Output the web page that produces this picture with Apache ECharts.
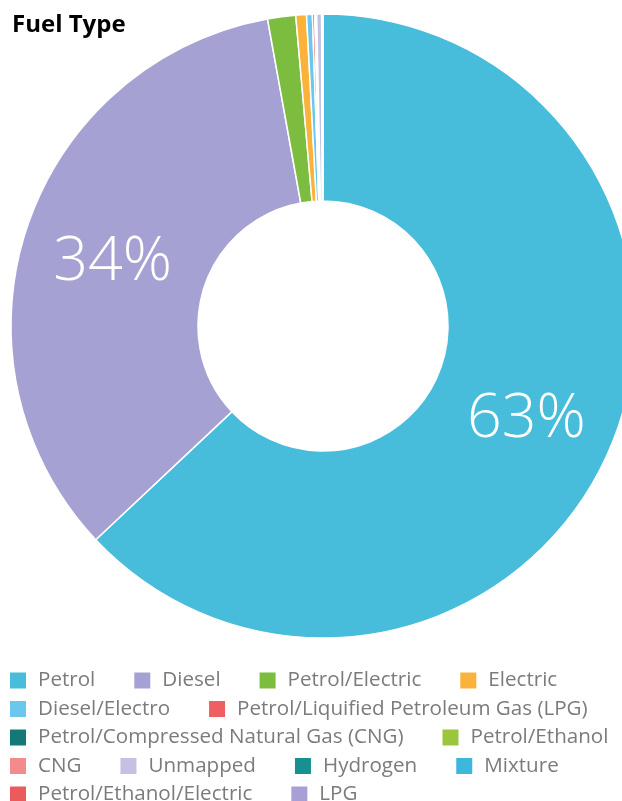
<!DOCTYPE html>
<html>
<head>
<meta charset="utf-8">
<script src="https://cdn.jsdelivr.net/npm/echarts@6/dist/echarts.min.js"></script>
<style>
  html, body { margin: 0; padding: 0; background: #fff; }
  #chart { width: 622px; height: 801px; }
</style>
</head>
<body>
<div id="chart"></div>
<script>
// fuel types, in legend order
const fuelTypes = [
  'Petrol', 'Diesel', 'Petrol/Electric', 'Electric',
  'Diesel/Electro', 'Petrol/Liquified Petroleum Gas (LPG)',
  'Petrol/Compressed Natural Gas (CNG)', 'Petrol/Ethanol',
  'CNG', 'Unmapped', 'Hydrogen', 'Mixture',
  'Petrol/Ethanol/Electric', 'LPG'
];
// share in percent
const shares = [62.83, 34.08, 1.45, 0.55, 0.3, 0.12, 0.02, 0.03, 0.05, 0.25, 0.01, 0.02, 0.02, 0.02];
const colors = [
  '#47bddb', '#a6a1d3', '#7cbd3f', '#fbb23a',
  '#6bc8ec', '#ef5f5f', '#137877', '#9bc53d',
  '#f28b8b', '#c4c1e4', '#17918f', '#3fb7dd',
  '#ec5b5b', '#a79fd5'
];
// how the legend wraps in the picture
const legendRows = [
  ['Petrol', 'Diesel', 'Petrol/Electric', 'Electric'],
  ['Diesel/Electro', 'Petrol/Liquified Petroleum Gas (LPG)'],
  ['Petrol/Compressed Natural Gas (CNG)', 'Petrol/Ethanol'],
  ['CNG', 'Unmapped', 'Hydrogen', 'Mixture'],
  ['Petrol/Ethanol/Electric', 'LPG']
];

const chart = echarts.init(document.getElementById('chart'));

const legends = legendRows.map((row, i) => ({
  data: row,
  left: 10,
  top: 670 + i * 28.5,
  orient: 'horizontal',
  padding: 0,
  itemGap: 39,
  itemWidth: 16,
  itemHeight: 16,
  icon: 'rect',
  selectedMode: false,
  itemStyle: { borderWidth: 0 },
  textStyle: {
    fontFamily: 'Open Sans',
    fontSize: 20.6,
    lineHeight: 20,
    color: '#7b7b7b',
    padding: [0, 0, 0, 7]
  }
}));

chart.setOption({
  animation: false,
  title: {
    text: 'Fuel Type',
    left: 12,
    top: 13,
    padding: 0,
    textStyle: {
      fontFamily: 'Open Sans',
      fontWeight: 'bold',
      fontSize: 24,
      color: '#000'
    }
  },
  legend: legends,
  series: [
    {
      type: 'pie',
      center: [323, 326],
      radius: [125, 312],
      startAngle: 90,
      clockwise: true,
      avoidLabelOverlap: false,
      itemStyle: { borderColor: '#fff', borderWidth: 1.5 },
      label: {
        show: true,
        position: 'inside',
        offset: [0, 6],
        fontFamily: 'Open Sans',
        fontWeight: 300,
        fontSize: 61,
        color: '#fff',
        formatter: p => (p.percent > 5 ? Math.round(p.percent) + '%' : '')
      },
      labelLine: { show: false },
      emphasis: { disabled: true },
      data: fuelTypes.map((name, i) => ({
        name: name,
        value: shares[i],
        itemStyle: { color: colors[i] }
      }))
    }
  ]
});
</script>
</body>
</html>
